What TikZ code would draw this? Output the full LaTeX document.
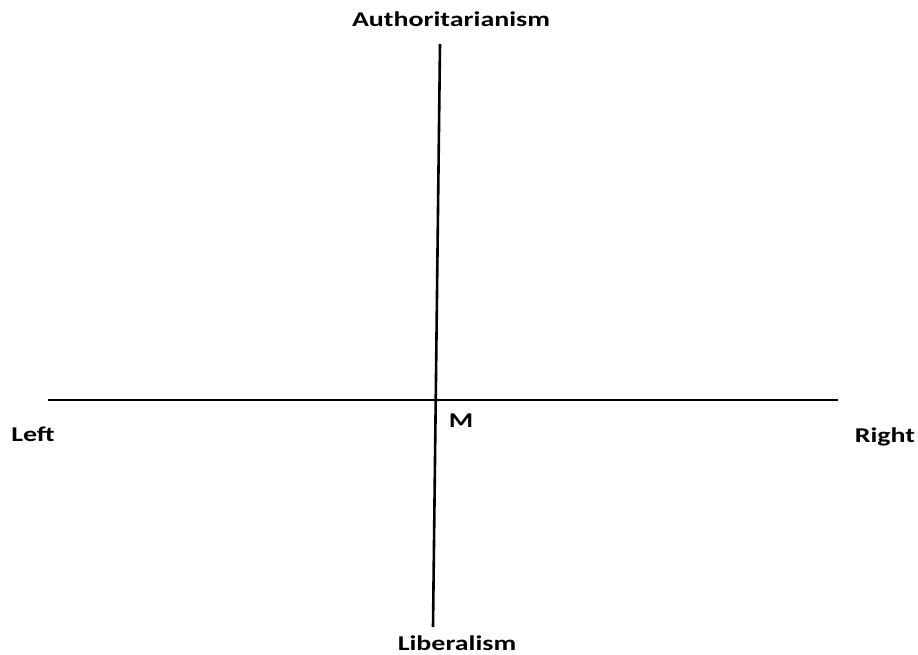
\documentclass[tikz,border=0pt]{standalone}
\usepackage{fontspec}
\setmainfont{Carlito}
\begin{document}
\begin{tikzpicture}[x=1pt,y=1pt,
  axis/.style={line width=2.6pt, black},
  lbl/.style={font=\bfseries\fontsize{21}{24}\selectfont, text=black, inner sep=0pt, anchor=base}]
\useasboundingbox (0,0) rectangle (918,654);
% axes (image y measured downward: y' = 654 - y)
\coordinate (vtop) at (440,610);
\coordinate (vbot) at (433,27);
\coordinate (hl) at (48,254);
\coordinate (hr) at (838,254);
\draw[axis] (hl) -- (hr);
\draw[axis] (vtop) -- (vbot);
% labels
\node[lbl] (auth) at (451,627) {\scalebox{1.33}[1]{Authoritarianism}};
\node[lbl] (lib) at (457,4) {\scalebox{1.33}[1]{Liberalism}};
\node[lbl] (left) at (33,213) {\scalebox{1.33}[1]{Left}};
\node[lbl] (right) at (885,212) {\scalebox{1.33}[1]{Right}};
\node[lbl] (m) at (461,227) {\scalebox{1.33}[1]{M}};
\end{tikzpicture}
\end{document}
